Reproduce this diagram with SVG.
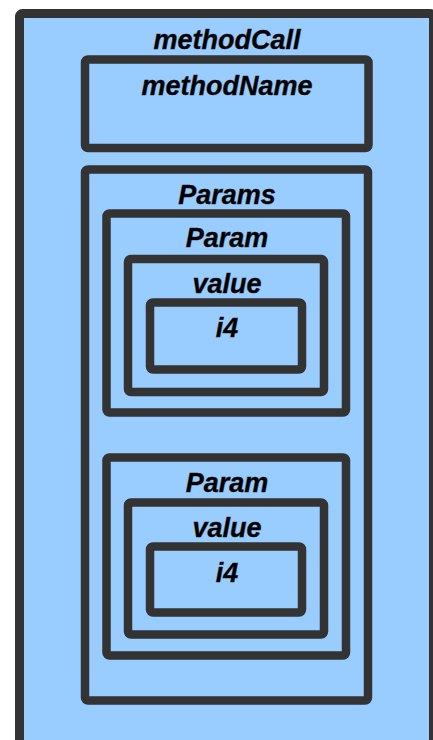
<svg xmlns="http://www.w3.org/2000/svg" width="433" height="740" viewBox="0 0 433 740">
  <style>
    .box { fill: #99ccff; stroke: #333333; stroke-width: 8.5; }
    .outer { stroke-width: 9; }
    .lbl { font-family: "Liberation Sans", Arial, sans-serif; font-weight: bold; font-style: italic; font-size: 27px; fill: #000000; text-anchor: middle; stroke: #1a1a1a; stroke-width: 0.4; }
  </style>
  <rect x="0" y="0" width="433" height="740" fill="#ffffff"/>

  <g id="methodCall">
    <rect class="box outer" x="19.5" y="13.5" width="414" height="750" rx="3"/>
    <text class="lbl" x="227" y="49">methodCall</text>
  </g>

  <g id="methodName">
    <rect class="box" x="85" y="59.5" width="283.5" height="88.5" rx="3"/>
    <text class="lbl" x="227" y="95">methodName</text>
  </g>

  <g id="params">
    <rect class="box" x="85" y="169.5" width="283" height="531" rx="3"/>
    <text class="lbl" x="227" y="204">Params</text>
  </g>

  <g id="param1">
    <rect class="box" x="106.5" y="213.5" width="239.5" height="199" rx="3"/>
    <text class="lbl" x="227" y="247">Param</text>
  </g>

  <g id="value1">
    <rect class="box" x="128" y="259" width="196" height="133" rx="3"/>
    <text class="lbl" x="227" y="293">value</text>
  </g>

  <g id="i4-1">
    <rect class="box" x="150" y="302.5" width="152" height="67" rx="3"/>
    <text class="lbl" x="227" y="337">i4</text>
  </g>

  <g id="param2">
    <rect class="box" x="106.5" y="457.5" width="239.5" height="198" rx="3"/>
    <text class="lbl" x="227" y="492">Param</text>
  </g>

  <g id="value2">
    <rect class="box" x="128" y="502.5" width="196" height="132" rx="3"/>
    <text class="lbl" x="227" y="537">value</text>
  </g>

  <g id="i4-2">
    <rect class="box" x="150" y="546.5" width="152" height="66" rx="3"/>
    <text class="lbl" x="227" y="582">i4</text>
  </g>

  <g id="connectors"/>
</svg>
